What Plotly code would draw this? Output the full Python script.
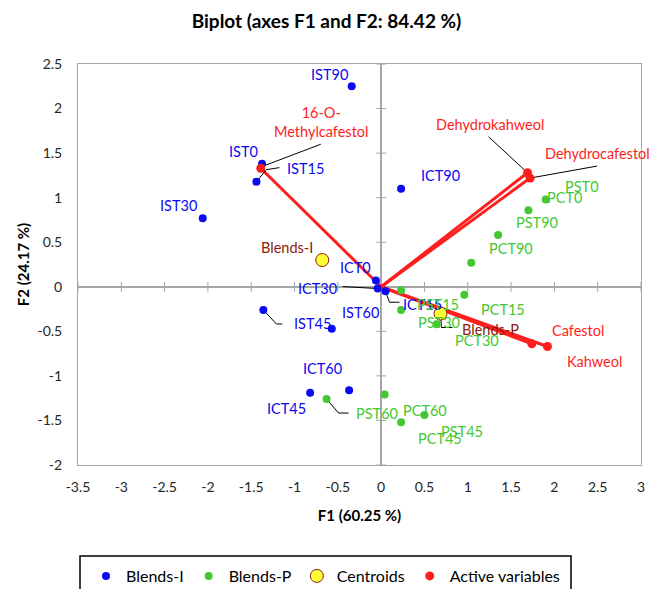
import plotly.graph_objects as go

# ---------------- data ----------------
blend_i_names = ["IST0", "IST15", "IST30", "IST45", "IST60", "IST90",
                 "ICT0", "ICT15", "ICT30", "ICT45", "ICT60", "ICT90"]
blend_i_f1 = [-1.375, -1.44, -2.06, -1.36, -0.57, -0.34,
              -0.06, 0.05, -0.04, -0.82, -0.37, 0.23]
blend_i_f2 = [1.38, 1.18, 0.77, -0.26, -0.47, 2.25,
              0.07, -0.05, -0.02, -1.19, -1.16, 1.10]

blend_p_names = ["PST0", "PST15", "PST30", "PST45", "PST60", "PST90",
                 "PCT0", "PCT15", "PCT30", "PCT45", "PCT60", "PCT90"]
blend_p_f1 = [1.90, 0.23, 0.23, 0.50, -0.63, 1.35,
              1.70, 0.96, 0.64, 0.23, 0.04, 1.04]
blend_p_f2 = [0.98, -0.04, -0.26, -1.44, -1.26, 0.58,
              0.86, -0.09, -0.42, -1.52, -1.21, 0.27]

centroid_names = ["Blends-I", "Blends-P"]
centroid_f1 = [-0.68, 0.685]
centroid_f2 = [0.30, -0.30]

var_names = ["16-O-Methylcafestol", "Dehydrokahweol", "Dehydrocafestol", "Cafestol", "Kahweol"]
var_labels = ["16-O-<br>Methylcafestol", "Dehydrokahweol", "Dehydrocafestol", "Cafestol", "Kahweol"]
var_f1 = [-1.39, 1.69, 1.72, 1.74, 1.92]
var_f2 = [1.33, 1.28, 1.22, -0.64, -0.67]

x_ticks = [-3.5, -3, -2.5, -2, -1.5, -1, -0.5, 0, 0.5, 1, 1.5, 2, 2.5, 3]
y_ticks = [-2, -1.5, -1, -0.5, 0, 0.5, 1, 1.5, 2, 2.5]

# ---------------- label placement (screen pixel offsets, y down) ----------------
label_offsets = {
    "IST0": (-19, -12), "IST15": (49, -13), "IST30": (-24, -13), "IST45": (49, 14),
    "IST60": (29, -16), "IST90": (-22, -12), "ICT0": (-20, -13), "ICT15": (37, 13),
    "ICT30": (-60, 0), "ICT45": (-24, 16), "ICT60": (-27, -22), "ICT90": (39, -13),
    "PST0": (36, -13), "PST15": (37, 14), "PST30": (38, 13), "PST45": (38, 16),
    "PST60": (50, 14), "PST90": (39, -13), "PCT0": (36, -13), "PCT15": (39, 15),
    "PCT30": (40, 16), "PCT45": (39, 16), "PCT60": (40, 16), "PCT90": (40, -14),
    "Blends-I": (-35, -13), "Blends-P": (50, 16),
    "16-O-Methylcafestol": (60, -46), "Dehydrokahweol": (-38, -48),
    "Dehydrocafestol": (67, -25), "Cafestol": (46, -13), "Kahweol": (47, 15),
}
leaders = {
    "IST15": [(0, 0), (10, -12), (23, -14)],
    "IST45": [(0, 0), (13, 14), (19, 14)],
    "ICT15": [(0, 0), (4, 11), (14, 11)],
    "ICT30": [(0, 0), (-35, -2)],
    "PST60": [(0, 0), (12, 14), (22, 14)],
    "Blends-P": [(0, 0), (1, 14), (12, 14)],
    "16-O-Methylcafestol": [(2, -2), (60, -24)],
    "Dehydrokahweol": [(0, 0), (-39, -36)],
    "Dehydrocafestol": [(0, 0), (67, -12)],
}

# ---------------- style ----------------
W, H = 653, 589
ML, MR, MT, MB = 78, 12, 64, 124
XR = (-3.5, 3.0)
YR = (-2.0, 2.5)
PX_X = (W - ML - MR) / (XR[1] - XR[0])
PX_Y = (H - MT - MB) / (YR[1] - YR[0])

FONT = "Lato, Carlito, 'Open Sans', sans-serif"
BLUE = "#0A0AF0"
GREEN = "#44C832"
RED = "#FF1E1E"
BROWN = "#8B1A10"
YELLOW = "#FFFF33"
GRAY = "#A6A6A6"
LABEL_SIZE = 14.5

fig = go.Figure()

# vectors from origin to active variables
for fx, fy in zip(var_f1, var_f2):
    fig.add_trace(go.Scatter(x=[0, fx], y=[0, fy], mode="lines",
                             line=dict(color=RED, width=3),
                             showlegend=False, hoverinfo="skip"))

all_pts = {}
for names, xs, ys in ((blend_i_names, blend_i_f1, blend_i_f2),
                      (blend_p_names, blend_p_f1, blend_p_f2),
                      (centroid_names, centroid_f1, centroid_f2),
                      (var_names, var_f1, var_f2)):
    for n, a, b in zip(names, xs, ys):
        all_pts[n] = (a, b)

# leader lines
lx, ly = [], []
for n, verts in leaders.items():
    px, py = all_pts[n]
    for dx, dy in verts:
        lx.append(px + dx / PX_X)
        ly.append(py - dy / PX_Y)
    lx.append(None)
    ly.append(None)
fig.add_trace(go.Scatter(x=lx, y=ly, mode="lines", line=dict(color="black", width=1),
                         showlegend=False, hoverinfo="skip"))

fig.add_trace(go.Scatter(x=blend_i_f1, y=blend_i_f2, mode="markers", name="Blends-I",
                         marker=dict(color=BLUE, size=8)))
fig.add_trace(go.Scatter(x=blend_p_f1, y=blend_p_f2, mode="markers", name="Blends-P",
                         marker=dict(color=GREEN, size=8)))
fig.add_trace(go.Scatter(x=centroid_f1, y=centroid_f2, mode="markers", name="Centroids",
                         marker=dict(color=YELLOW, size=13, line=dict(color=BROWN, width=1))))
fig.add_trace(go.Scatter(x=var_f1, y=var_f2, mode="markers", name="Active variables",
                         marker=dict(color=RED, size=9)))


def add_labels(names, xs, ys, color, texts=None):
    texts = texts or names
    for n, t, a, b in zip(names, texts, xs, ys):
        dx, dy = label_offsets[n]
        fig.add_annotation(x=a, y=b, text=t, showarrow=False, xshift=dx, yshift=-dy,
                           font=dict(family=FONT, size=LABEL_SIZE, color=color))


add_labels(blend_i_names, blend_i_f1, blend_i_f2, BLUE)
add_labels(blend_p_names, blend_p_f1, blend_p_f2, GREEN)
add_labels(centroid_names, centroid_f1, centroid_f2, BROWN)
add_labels(var_names, var_f1, var_f2, RED, var_labels)

# tick marks crossing the zero axes
for t in x_ticks:
    if t == 0:
        continue
    fig.add_shape(type="line", xref="x", yref="y", x0=t, x1=t, ysizemode="pixel",
                  yanchor=0, y0=-5, y1=5, line=dict(color=GRAY, width=1))
for t in y_ticks:
    if t == 0:
        continue
    fig.add_shape(type="line", xref="x", yref="y", y0=t, y1=t, xsizemode="pixel",
                  xanchor=0, x0=-5, x1=5, line=dict(color=GRAY, width=1))

# legend frame
pw = W - ML - MR
ph = H - MT - MB
fig.add_shape(type="rect", xref="paper", yref="paper",
              x0=(80 - ML) / pw, x1=(571 - ML) / pw,
              y0=(H - MB - 556) / ph, y1=(H - MB - 610) / ph,
              line=dict(color="black", width=1.5), fillcolor="rgba(0,0,0,0)")

axis_common = dict(showgrid=False, zeroline=True, zerolinecolor=GRAY, zerolinewidth=1.5,
                   showline=True, linecolor=GRAY, linewidth=1, mirror=True,
                   ticks="", automargin=False,
                   tickfont=dict(family=FONT, size=14, color="#262626"))

fig.update_layout(
    width=W, height=H,
    margin=dict(l=ML, r=MR, t=MT, b=MB, autoexpand=False),
    paper_bgcolor="white", plot_bgcolor="white",
    font=dict(family=FONT),
    title=dict(text="<b>Biplot (axes F1 and F2: 84.42 %)</b>", x=0.5, xanchor="center",
               y=1 - 21 / H, yanchor="middle", yref="container",
               font=dict(family=FONT, size=19, color="black")),
    xaxis=dict(range=list(XR), tickvals=x_ticks, ticktext=[f"{v:g}" for v in x_ticks],
               ticklabelstandoff=9,
               title=dict(text="<b>F1 (60.25 %)</b>", standoff=16,
                          font=dict(family=FONT, size=15, color="black")),
               **axis_common),
    yaxis=dict(range=list(YR), tickvals=y_ticks, ticktext=[f"{v:g}" for v in y_ticks],
               ticklabelstandoff=12,
               title=dict(text="<b>F2 (24.17 %)</b>", standoff=4,
                          font=dict(family=FONT, size=15, color="black")),
               **axis_common),
    legend=dict(orientation="h", xref="container", yref="container",
                x=86 / W, xanchor="left",
                y=1 - 559 / H, yanchor="top",
                font=dict(family=FONT, size=16, color="black"),
                bgcolor="rgba(0,0,0,0)", borderwidth=0),
    showlegend=True,
)

fig.write_html("out.html")
